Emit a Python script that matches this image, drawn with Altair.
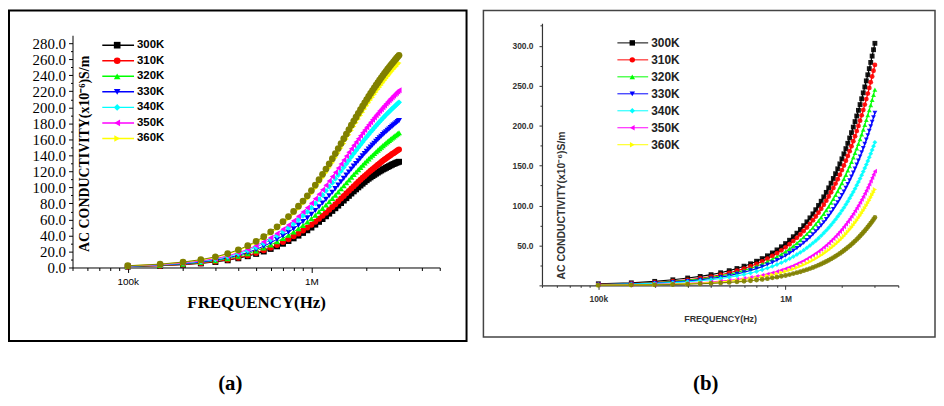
import altair as alt
import pandas as pd

# ---------------- data ----------------
FREQ_KHZ = [100, 150, 200, 250, 300, 350, 400, 450, 500, 550,
            600, 650, 700, 750, 800, 850, 900, 950, 1000, 1050,
            1100, 1150, 1200, 1250, 1300, 1350, 1400, 1450, 1500, 1550,
            1600, 1650, 1700, 1750, 1800, 1850, 1900, 1950, 2000, 2050,
            2100, 2150, 2200, 2250, 2300, 2350, 2400, 2450, 2500, 2550,
            2600, 2650, 2700, 2750, 2800, 2850, 2900, 2950, 3000]

SERIES = ["300K", "310K", "320K", "330K", "340K", "350K", "360K", "extra"]
LEGEND_LABELS = ["300K", "310K", "320K", "330K", "340K", "350K", "360K"]
COLORS = ["#000000", "#ff0000", "#00ff00", "#0000ff", "#00ffff", "#ff00ff", "#ffff00", "#808000"]
SHAPES = ["square", "circle", "triangle-up", "triangle-down", "diamond",
          "triangle-left", "triangle-right", "circle"]

# panel (a)
A_300K = [1.1, 2.2, 3.5, 5.1, 6.9, 9.0, 11.5, 14.1, 17.0, 20.0, 23.2, 26.4, 29.7, 33.1, 36.4, 39.8, 43.2, 46.5, 49.9, 53.5,
          57.0, 60.5, 64.0, 67.3, 70.7, 74.0, 77.3, 80.5, 83.6, 86.6, 89.5, 92.4, 95.1, 97.6, 100.1, 102.4, 104.7, 106.9, 109.0, 110.9,
          112.6, 114.2, 115.7, 117.2, 118.6, 120.0, 121.2, 122.5, 123.4, 124.5, 125.5, 126.5, 127.5, 128.4, 129.2, 130.0, 130.8, 131.4, 132.0]
A_310K = [1.2, 2.3, 3.8, 5.4, 7.4, 9.7, 12.3, 15.1, 18.2, 21.4, 24.8, 28.2, 31.8, 35.4, 38.9, 42.5, 46.1, 49.8, 53.4, 57.2,
          61.0, 64.7, 68.4, 72.0, 75.6, 79.1, 82.6, 86.1, 89.4, 92.6, 95.7, 98.8, 101.6, 104.4, 107.0, 109.5, 112.0, 114.3, 116.6, 118.8,
          120.8, 122.8, 124.7, 126.5, 128.3, 130.0, 131.7, 133.3, 134.8, 136.2, 137.7, 139.0, 140.3, 141.6, 142.8, 144.0, 145.2, 146.3, 147.3]
A_320K = [1.4, 2.7, 4.3, 6.2, 8.4, 11.0, 14.0, 17.3, 20.8, 24.4, 28.3, 32.3, 36.3, 40.4, 44.5, 48.6, 52.7, 56.8, 61.0, 65.3,
          69.7, 73.9, 78.1, 82.2, 86.3, 90.4, 94.4, 98.3, 102.1, 105.8, 109.3, 112.8, 116.1, 119.2, 122.2, 125.1, 127.9, 130.6, 133.2, 135.6,
          138.0, 140.2, 142.4, 144.5, 146.6, 148.5, 150.4, 152.2, 153.9, 155.6, 157.2, 158.8, 160.3, 161.7, 163.1, 164.5, 165.8, 167.1, 168.3]
A_330K = [1.5, 2.9, 4.7, 6.8, 9.2, 12.0, 15.3, 18.8, 22.6, 26.6, 30.9, 35.2, 39.6, 44.0, 48.4, 52.9, 57.4, 61.9, 66.4, 71.2,
          75.9, 80.5, 85.1, 89.6, 94.0, 98.5, 102.8, 107.1, 111.3, 115.3, 119.2, 123.0, 126.5, 129.9, 133.2, 136.3, 139.4, 142.3, 145.1, 147.8,
          150.4, 152.8, 155.2, 157.5, 159.7, 161.9, 163.9, 165.9, 167.7, 169.5, 171.3, 173.0, 174.7, 176.3, 177.8, 179.2, 180.7, 182.1, 183.4]
A_340K = [1.7, 3.3, 5.3, 7.6, 10.3, 13.5, 17.2, 21.2, 25.4, 30.0, 34.7, 39.5, 44.5, 49.5, 54.5, 59.5, 64.6, 69.6, 74.7, 80.1,
          85.3, 90.6, 95.7, 100.8, 105.7, 110.7, 115.6, 120.4, 125.1, 129.6, 134.0, 138.3, 142.2, 146.0, 149.8, 153.3, 156.7, 160.0, 163.1, 166.2,
          169.1, 171.8, 174.5, 177.1, 179.6, 182.0, 184.2, 186.5, 188.6, 190.6, 192.6, 194.5, 196.4, 198.2, 199.9, 201.5, 203.1, 204.7, 206.2]
A_350K = [1.8, 3.5, 5.7, 8.2, 11.1, 14.5, 18.5, 22.7, 27.3, 32.1, 37.2, 42.4, 47.8, 53.1, 58.5, 63.9, 69.3, 74.7, 80.2, 85.9,
          91.6, 97.2, 102.7, 108.1, 113.5, 118.8, 124.1, 129.3, 134.3, 139.1, 143.8, 148.4, 152.6, 156.7, 160.7, 164.5, 168.2, 171.7, 175.1, 178.4,
          181.4, 184.4, 187.3, 190.0, 192.7, 195.3, 197.7, 200.1, 202.4, 204.6, 206.7, 208.8, 210.8, 212.7, 214.5, 216.3, 218.0, 219.7, 221.3]
A_360K = [2.1, 4.0, 6.5, 9.4, 12.8, 16.8, 21.3, 26.2, 31.5, 37.1, 42.9, 48.9, 55.1, 61.2, 67.4, 73.7, 79.9, 86.2, 92.4, 99.1,
          105.6, 112.1, 118.4, 124.7, 130.9, 137.0, 143.1, 149.1, 154.9, 160.4, 165.8, 171.1, 176.0, 180.8, 185.4, 189.7, 193.9, 198.0, 201.9, 205.7,
          209.3, 212.6, 216.0, 219.2, 222.3, 225.2, 228.0, 230.8, 233.4, 235.9, 238.4, 240.8, 243.1, 245.3, 247.4, 249.4, 251.4, 253.4, 255.2]
A_EXTRA = [2.2, 4.2, 6.8, 9.8, 13.3, 17.4, 22.1, 27.2, 32.7, 38.5, 44.6, 50.8, 57.2, 63.6, 70.0, 76.5, 83.0, 89.5, 96.0, 102.9,
           109.7, 116.4, 123.0, 129.5, 135.9, 142.3, 148.6, 154.8, 160.8, 166.6, 172.2, 177.7, 182.8, 187.7, 192.5, 197.0, 201.4, 205.6, 209.7, 213.6,
           217.3, 220.8, 224.3, 227.6, 230.8, 233.9, 236.8, 239.7, 242.4, 245.0, 247.6, 250.0, 252.4, 254.7, 256.9, 259.0, 261.1, 263.1, 265.0]

# panel (b)
B_300K = [2.0, 3.2, 5.0, 7.0, 9.2, 11.2, 13.4, 15.8, 18.4, 21.1, 24.0, 27.0, 30.2, 33.5, 37.0, 40.6, 44.4, 48.3, 52.3, 56.5,
          60.9, 65.3, 69.9, 74.7, 79.5, 84.5, 89.5, 94.7, 100.0, 105.3, 110.8, 116.4, 122.1, 127.9, 133.8, 139.8, 145.9, 152.1, 158.4, 164.7,
          171.2, 177.8, 184.5, 191.2, 198.1, 205.0, 212.0, 219.1, 226.3, 233.6, 241.0, 248.4, 256.0, 263.6, 271.3, 279.1, 287.0, 295.0, 303.0]
B_310K = [1.2, 2.3, 3.6, 5.2, 6.9, 8.9, 11.0, 13.3, 15.7, 18.3, 21.0, 23.9, 26.9, 30.0, 33.3, 36.7, 40.2, 43.8, 47.6, 51.5,
          55.4, 59.5, 63.7, 68.0, 72.4, 76.9, 81.5, 86.2, 91.0, 95.9, 100.9, 106.0, 111.2, 116.5, 121.9, 127.4, 132.9, 138.5, 144.3, 150.1,
          156.0, 162.0, 168.0, 174.2, 180.4, 186.7, 193.1, 199.6, 206.2, 212.8, 219.5, 226.3, 233.2, 240.1, 247.2, 254.2, 261.4, 268.7, 276.0]
B_320K = [1.1, 2.0, 3.2, 4.6, 6.2, 7.9, 9.8, 11.8, 13.9, 16.2, 18.7, 21.2, 23.9, 26.7, 29.6, 32.6, 35.7, 38.9, 42.2, 45.7,
          49.2, 52.8, 56.6, 60.4, 64.3, 68.3, 72.4, 76.6, 80.8, 85.2, 89.6, 94.1, 98.7, 103.4, 108.2, 113.1, 118.0, 123.0, 128.0, 133.2,
          138.4, 143.8, 149.1, 154.6, 160.1, 165.8, 171.4, 177.2, 183.0, 188.9, 194.9, 200.9, 207.0, 213.2, 219.4, 225.7, 232.1, 238.5, 245.0]
B_330K = [0.9, 1.8, 2.8, 4.1, 5.4, 6.9, 8.6, 10.4, 12.3, 14.3, 16.4, 18.7, 21.0, 23.5, 26.1, 28.7, 31.5, 34.3, 37.2, 40.3,
          43.4, 46.6, 49.9, 53.2, 56.7, 60.2, 63.8, 67.5, 71.3, 75.1, 79.0, 83.0, 87.0, 91.2, 95.4, 99.7, 104.0, 108.4, 112.9, 117.4,
          122.1, 126.8, 131.5, 136.3, 141.2, 146.1, 151.1, 156.2, 161.3, 166.5, 171.8, 177.1, 182.5, 187.9, 193.4, 199.0, 204.6, 210.3, 216.0]
B_340K = [0.8, 1.5, 2.4, 3.4, 4.5, 5.8, 7.1, 8.6, 10.2, 11.9, 13.6, 15.5, 17.4, 19.5, 21.6, 23.8, 26.1, 28.4, 30.9, 33.4,
          35.9, 38.6, 41.3, 44.1, 47.0, 49.9, 52.9, 55.9, 59.0, 62.2, 65.5, 68.8, 72.1, 75.6, 79.1, 82.6, 86.2, 89.8, 93.6, 97.3,
          101.2, 105.0, 109.0, 113.0, 117.0, 121.1, 125.3, 129.5, 133.7, 138.0, 142.4, 146.8, 151.2, 155.7, 160.3, 164.9, 169.6, 174.3, 179.0]
B_350K = [0.4, 0.8, 1.3, 1.8, 2.5, 3.3, 4.2, 5.2, 6.2, 7.3, 8.6, 9.8, 11.2, 12.6, 14.1, 15.7, 17.4, 19.1, 20.9, 22.8,
          24.7, 26.7, 28.8, 30.9, 33.1, 35.4, 37.7, 40.1, 42.5, 45.0, 47.6, 50.2, 52.9, 55.7, 58.5, 61.4, 64.3, 67.3, 70.3, 73.4,
          76.6, 79.8, 83.1, 86.4, 89.8, 93.3, 96.8, 100.3, 103.9, 107.6, 111.3, 115.1, 118.9, 122.8, 126.7, 130.7, 134.8, 138.9, 143.0]
B_360K = [0.3, 0.6, 1.0, 1.6, 2.1, 2.8, 3.5, 4.3, 5.2, 6.2, 7.2, 8.3, 9.4, 10.6, 11.9, 13.2, 14.6, 16.0, 17.5, 19.1,
          20.7, 22.4, 24.1, 25.9, 27.8, 29.7, 31.6, 33.6, 35.7, 37.8, 39.9, 42.2, 44.4, 46.7, 49.1, 51.5, 54.0, 56.5, 59.0, 61.6,
          64.3, 67.0, 69.7, 72.5, 75.4, 78.3, 81.2, 84.2, 87.2, 90.3, 93.4, 96.6, 99.8, 103.0, 106.3, 109.7, 113.1, 116.5, 120.0]
B_EXTRA = [0.2, 0.4, 0.7, 1.1, 1.5, 2.0, 2.5, 3.1, 3.7, 4.4, 5.1, 5.8, 6.7, 7.5, 8.4, 9.4, 10.3, 11.4, 12.4, 13.5,
           14.7, 15.9, 17.1, 18.4, 19.7, 21.0, 22.4, 23.8, 25.3, 26.8, 28.3, 29.9, 31.5, 33.1, 34.8, 36.5, 38.2, 40.0, 41.8, 43.7,
           45.5, 47.5, 49.4, 51.4, 53.4, 55.4, 57.5, 59.6, 61.8, 64.0, 66.2, 68.4, 70.7, 73.0, 75.3, 77.7, 80.1, 82.5, 85.0]

X_TICKS_A = [50000, 60000, 70000, 80000, 90000, 100000, 200000, 300000, 400000, 500000,
             600000, 700000, 800000, 900000, 1000000, 2000000, 3000000, 4000000, 5000000]
X_TICKS_B = [50000, 60000, 70000, 80000, 90000, 100000, 200000, 300000, 400000, 500000,
             600000, 700000, 800000, 900000, 1000000, 2000000, 3000000, 4000000]
Y_TICKS_A = [0, 10, 20, 30, 40, 50, 60, 70, 80, 90, 100, 110, 120, 130, 140, 150, 160, 170, 180, 190,
             200, 210, 220, 230, 240, 250, 260, 270, 280]
Y_TICKS_B = [0, 25, 50, 75, 100, 125, 150, 175, 200, 225, 250, 275, 300, 325]

Y_TITLE = "AC CONDUCTIVITY(x10\u207b\u2076)S/m"
X_TITLE = "FREQUENCY(Hz)"


def to_long(arrays):
    rows = []
    for name, vals in zip(SERIES, arrays):
        assert len(vals) == len(FREQ_KHZ), name
        for f, v in zip(FREQ_KHZ, vals):
            rows.append({"freq": f * 1000, "value": v, "series": name})
    return pd.DataFrame(rows)


DF_A = to_long([A_300K, A_310K, A_320K, A_330K, A_340K, A_350K, A_360K, A_EXTRA])
DF_B = to_long([B_300K, B_310K, B_320K, B_330K, B_340K, B_350K, B_360K, B_EXTRA])

X_LABEL_EXPR = "datum.value == 100000 ? '100k' : (datum.value == 1000000 ? '1M' : '')"


def panel(df, c):
    xs = alt.Scale(type="log", domain=c["xdom"], nice=False)
    if "yrange" in c:
        ys = alt.Scale(domain=c["ydom"], nice=False, zero=False, range=c["yrange"])
    else:
        ys = alt.Scale(domain=c["ydom"], nice=False, zero=False)
    cs = alt.Scale(domain=SERIES, range=COLORS)
    ss = alt.Scale(domain=SERIES, range=SHAPES)

    xaxis = alt.Axis(values=c["xticks"], labelExpr=X_LABEL_EXPR,
                     tickSize={"condition": {"test": "datum.value == 100000 || datum.value == 1000000",
                                             "value": c["xmaj"]}, "value": c["xmin"]},
                     labelFont=c["xlf"], labelFontSize=c["xls"], labelFontWeight=c["xlw"],
                     labelPadding=c["xlp"], labelOverlap=False, labelFlush=False,
                     title=X_TITLE, titleFont=c["xtf"], titleFontSize=c["xts"], titleFontWeight="bold",
                     titleBaseline="alphabetic", titleAlign="center", titleX=c["w"] / 2, titleY=c["xty"],
                     grid=False, domainColor=c["axc"], tickColor=c["axc"], labelColor=c["axc"],
                     domainWidth=c["dw"], tickWidth=1, titleColor=c["axc"])
    yaxis = alt.Axis(values=c["yticks"], labelExpr=c["ylexpr"],
                     tickSize={"condition": {"test": c["ymajtest"], "value": c["ymaj"]}, "value": c["ymin"]},
                     labelFont=c["ylf"], labelFontSize=c["yls"], labelFontWeight=c["ylw"],
                     labelPadding=c["ylp"], labelOverlap=False, labelFlush=False,
                     title=Y_TITLE, titleFont=c["ytf"], titleFontSize=c["yts"], titleFontWeight="bold",
                     titleAngle=270, titleX=c["ytx"], titleY=c["yty"], titleBaseline="alphabetic",
                     titleAlign="center", grid=False, domainColor=c["axc"], tickColor=c["axc"],
                     labelColor=c["axc"], domainWidth=c["dw"], tickWidth=1, titleColor=c["axc"])

    base = alt.Chart(df)
    X = alt.X("freq:Q", scale=xs, axis=xaxis)
    Y = alt.Y("value:Q", scale=ys, axis=yaxis)
    C = alt.Color("series:N", scale=cs, legend=None)
    lines = base.mark_line(strokeWidth=c["lw"]).encode(x=X, y=Y, color=C)
    pts = base.mark_point(filled=True, opacity=c["op"]).encode(
        x=X, y=Y, color=C,
        shape=alt.Shape("series:N", scale=ss, legend=None),
        size=alt.condition(alt.datum.series == "extra", alt.value(c["big"]), alt.value(c["small"])))

    leg = pd.DataFrame({"series": LEGEND_LABELS})
    LY = alt.Y("series:N", scale=alt.Scale(type="point", domain=LEGEND_LABELS, range=c["legy"], padding=0),
               axis=None)
    lrule = alt.Chart(leg).mark_rule(strokeWidth=c["llw"]).encode(
        x=alt.value(c["lx0"]), x2=alt.value(c["lx1"]), y=LY, color=C)
    lpt = alt.Chart(leg).mark_point(filled=True, opacity=1, size=c["lsz"]).encode(
        x=alt.value(c["lxs"]), y=LY, color=C, shape=alt.Shape("series:N", scale=ss, legend=None))
    ltxt = alt.Chart(leg).mark_text(align="left", baseline="middle", font="Liberation Sans",
                                    fontWeight="bold", fontSize=c["lfs"], color=c["ltc"]).encode(
        x=alt.value(c["ltx"]), y=LY, text="series:N")

    one = pd.DataFrame({"k": [0]})
    border = alt.Chart(one).mark_rect(fill="white", fillOpacity=0, stroke=c["bc"], strokeWidth=c["bw"]).encode(
        x=alt.value(c["bx"][0]), x2=alt.value(c["bx"][1]), y=alt.value(c["by"][0]), y2=alt.value(c["by"][1]))
    cap = alt.Chart(one).mark_text(text=c["cap"], font="Liberation Serif", fontWeight="bold", fontSize=21,
                                   color="black", baseline="middle", align="center").encode(
        x=alt.value(c["capxy"][0]), y=alt.value(c["capxy"][1]))

    return alt.layer(border, cap, alt.layer(lines, pts), alt.layer(lrule, lpt, ltxt)).resolve_scale(
        y="independent").properties(width=c["w"], height=c["h"])


cfg_a = dict(
    w=370, h=234, xdom=[50000, 5000000], ydom=[0, 290], xticks=X_TICKS_A, yticks=Y_TICKS_A,
    xmaj=5, xmin=3, xlf="Liberation Sans", xls=10, xlw="normal", xlp=4,
    xtf="Liberation Serif", xts=17, xty=40,
    ylexpr="datum.value % 20 == 0 ? format(datum.value, '.1f') : ''",
    ymajtest="datum.value % 20 == 0", ymaj=4, ymin=2,
    ylf="Liberation Serif", yls=15, ylw="normal", ylp=3,
    ytf="Liberation Serif", yts=14, ytx=16, yty=119,
    axc="black", dw=1, lw=1, op=1, big=46, small=36,
    legy=[10, 104], llw=1.5, lx0=30, lx1=62, lxs=45, lsz=45, lfs=11.5, ltc="black", ltx=65,
    bc="black", bw=2, bx=[-64, 397], by=[-25, 308], cap="(a)", capxy=[159, 351],
)
# panel (b): its plot area starts above the shared row origin
cfg_b = dict(
    w=359, h=252, yrange=[252, -12], xdom=[50000, 4000000], ydom=[0, 328], xticks=X_TICKS_B, yticks=Y_TICKS_B,
    xmaj=4, xmin=2, xlf="Liberation Sans", xls=8.5, xlw="bold", xlp=5,
    xtf="Liberation Sans", xts=9, xty=36,
    ylexpr="(datum.value % 50 == 0 && datum.value > 0) ? format(datum.value, '.1f') : ''",
    ymajtest="datum.value % 50 == 0", ymaj=3, ymin=2,
    ylf="Liberation Sans", yls=8.5, ylw="bold", ylp=6,
    ytf="Liberation Sans", yts=10.5, ytx=23, yty=171,
    axc="#333333", dw=1.2, lw=1.2, op=0.9, big=24, small=24,
    legy=[7.7, 110.3], llw=1, lx0=76, lx1=107, lxs=91, lsz=30, lfs=12, ltc="#222222", ltx=110,
    bc="#444444", bw=1.5, bx=[-59, 396], by=[-25, 304], cap="(b)", capxy=[165, 351],
)

chart = alt.hconcat(panel(DF_A, cfg_a), panel(DF_B, cfg_b), spacing=15, padding=0,
                    background="white").configure_view(stroke=None)

chart.save("out.html", embed_options={"renderer": "svg", "actions": False})
